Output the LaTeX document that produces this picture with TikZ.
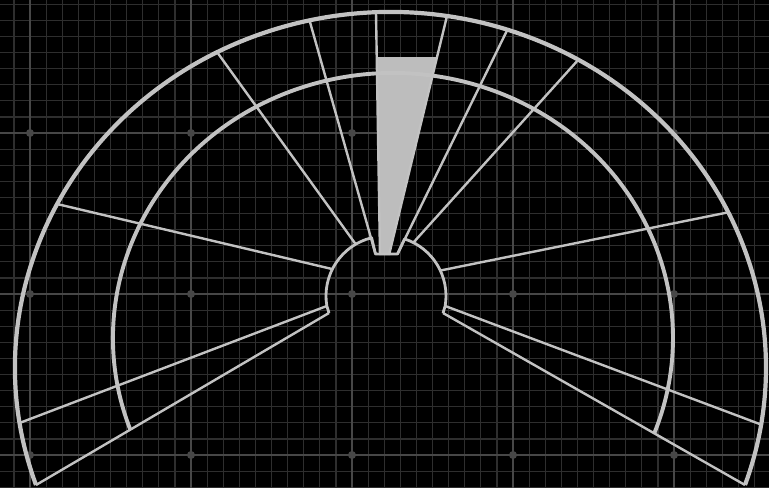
\documentclass[tikz,border=0pt]{standalone}
\usepackage{xcolor}
\usepackage{tikz}
\definecolor{gridgray}{HTML}{2E2E2E}
\definecolor{majorgray}{HTML}{474747}
\definecolor{dialgray}{HTML}{C2C2C2}
\definecolor{barfill}{HTML}{BDBDBD}

\begin{document}
\begin{tikzpicture}[x=1pt, y=-1pt,
  rim/.style={dialgray, line width=4.2pt},
  spoke/.style={dialgray, line width=2.4pt},
  hubline/.style={dialgray, line width=2.8pt, line join=round}]
\useasboundingbox (0,0) rectangle (769,488);
\fill[black] (0,0) rectangle (769,488);
% grid
\foreach \i in {-1,...,46} \draw[gridgray, line width=1.2pt] ({30+16.1*\i},0) -- ({30+16.1*\i},488);
\foreach \j in {-8,...,22} \draw[gridgray, line width=1.2pt] (0,{133+16.1*\j}) -- (769,{133+16.1*\j});
\foreach \x in {30,191,352,513,674} \draw[majorgray, line width=1.2pt] (\x,0) -- (\x,488);
\foreach \y in {133,294,455} \draw[majorgray, line width=1.2pt] (0,\y) -- (769,\y);
\foreach \x in {30,191,352,513,674} \foreach \y in {133,294,455} \fill[majorgray] (\x,\y) circle (4);
\coordinate (hubC) at (386,296);
\coordinate (outerC) at (390.5,367.7);
\coordinate (innerC) at (393,338);
% value bar
\fill[barfill] (380,255) -- (377,57) -- (437,57) -- (389,255) -- cycle;
% spokes
\draw[spoke] (332.4,269.1) -- (57,204);
\draw[spoke] (355.7,244.2) -- (217,52);
\draw[spoke] (375.5,254) -- (309.5,20.3);
\draw[spoke] (380,255) -- (376,12.5);
\draw[spoke] (389,255) -- (447,16);
\draw[spoke] (397.5,254) -- (507.5,29.5);
\draw[spoke] (413,243) -- (579,59);
\draw[spoke] (440.5,270.5) -- (728.3,212.3);
\draw[spoke] (326.8,306) -- (19.5,423);
\draw[spoke] (329,313) -- (36,485);
\draw[spoke] (445.2,306) -- (761,424.5);
\draw[spoke] (443,313) -- (745,485);
% hub with notch
\draw[hubline] (329,313) -- ([shift={(hubC)}]170.4:60) arc[start angle=170.4, end angle=256.1, radius=60]
  -- (375.5,254) -- (397.5,254) -- ([shift={(hubC)}]288:60) arc[start angle=288, end angle=369.6, radius=60] -- (443,313);
% rims
\draw[rim] ([shift={(outerC)}]160.75:375.5 and 355.7) arc[start angle=160.75, end angle=379.25, x radius=375.5, y radius=355.7];
\draw[rim, line width=3.9pt] ([shift={(innerC)}]159.7:280 and 265) arc[start angle=159.7, end angle=381.1, x radius=280, y radius=265];
\end{tikzpicture}
\end{document}
